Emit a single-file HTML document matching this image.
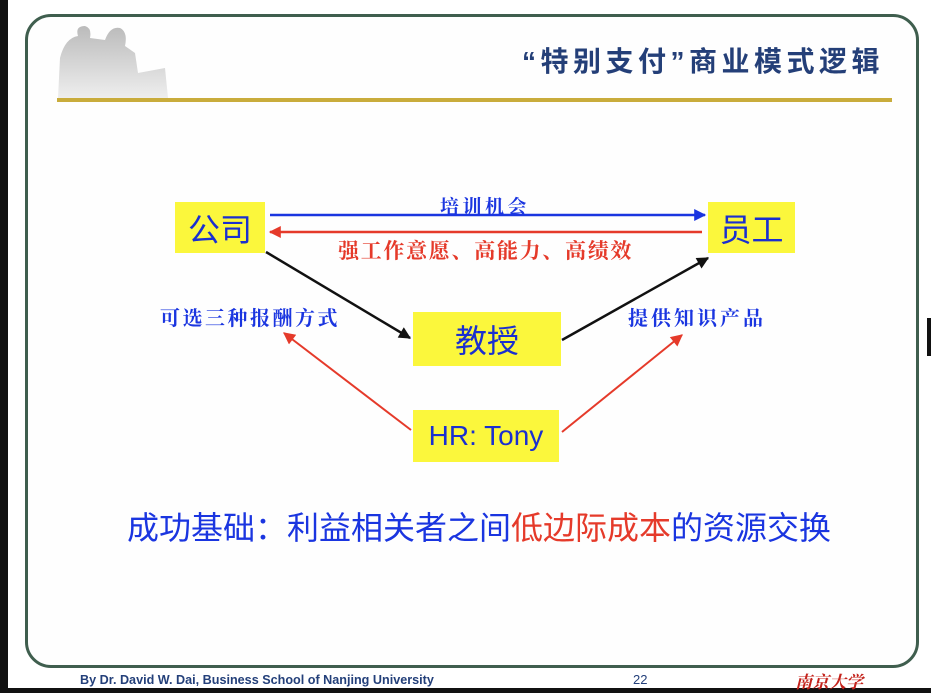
<!DOCTYPE html>
<html><head><meta charset="utf-8"><style>
body{margin:0;width:931px;height:693px;background:#fff;overflow:hidden;position:relative;font-family:"Liberation Sans","Noto Sans CJK SC",sans-serif}
.a{position:absolute;white-space:nowrap}
.box{position:absolute;background:#fbf73c;color:#1a2fd0;display:flex;align-items:center;justify-content:center}
.s{font-family:'Noto Serif CJK SC',serif}
</style></head><body>
<div class="a" style="left:0;top:0;width:8px;height:693px;background:#111"></div>
<div class="a" style="left:0;top:688px;width:931px;height:5px;background:#111"></div>
<div class="a" style="left:927px;top:318px;width:4px;height:38px;background:#111"></div>
<div class="a" style="left:25px;top:14px;width:888px;height:648px;border:3px solid #3f5e4e;border-radius:26px;background:#fefefe"></div>
<svg class="a" style="left:30px;top:18px" width="140" height="80">
<defs><linearGradient id="g" x1="0" y1="0" x2="0" y2="1"><stop offset="0" stop-color="#bbb"/><stop offset="1" stop-color="#eee"/></linearGradient></defs>
<path d="M28 80 L30 40 Q35 20 48 18 Q45 8 55 8 Q62 10 60 20 L75 22 Q80 8 90 10 Q98 14 95 28 L105 35 L108 55 L135 50 L138 80 Z" fill="url(#g)"/>
</svg>
<div class="a" style="left:522px;top:40px;font-size:28px;font-weight:bold;color:#243f78;letter-spacing:4.5px">“特别支付”商业模式逻辑</div>
<div class="a" style="left:57px;top:98px;width:835px;height:4px;background:#c9ac3c"></div>

<svg class="a" style="left:0;top:0" width="931" height="693">
<defs>
<marker id="b" viewBox="0 0 10 10" refX="9" refY="5" markerWidth="14" markerHeight="12" orient="auto" markerUnits="userSpaceOnUse"><path d="M0 0L10 5L0 10Z" fill="#1a35e0"/></marker>
<marker id="r" viewBox="0 0 10 10" refX="9" refY="5" markerWidth="14" markerHeight="12" orient="auto" markerUnits="userSpaceOnUse"><path d="M0 0L10 5L0 10Z" fill="#e53a2a"/></marker>
<marker id="k" viewBox="0 0 10 10" refX="9" refY="5" markerWidth="14" markerHeight="12" orient="auto" markerUnits="userSpaceOnUse"><path d="M0 0L10 5L0 10Z" fill="#111"/></marker>
</defs>
<line x1="270" y1="215" x2="705" y2="215" stroke="#1a35e0" stroke-width="2.5" marker-end="url(#b)"/>
<line x1="702" y1="232" x2="270" y2="232" stroke="#e53a2a" stroke-width="2.5" marker-end="url(#r)"/>
<line x1="266" y1="252" x2="410" y2="338" stroke="#111" stroke-width="2.5" marker-end="url(#k)"/>
<line x1="562" y1="340" x2="708" y2="258" stroke="#111" stroke-width="2.5" marker-end="url(#k)"/>
<line x1="411" y1="430" x2="284" y2="333" stroke="#e53a2a" stroke-width="2" marker-end="url(#r)"/>
<line x1="562" y1="432" x2="682" y2="335" stroke="#e53a2a" stroke-width="2" marker-end="url(#r)"/>
</svg>

<div class="box" style="left:175px;top:202px;width:90px;height:51px;font-size:32px">公司</div>
<div class="box" style="left:708px;top:202px;width:87px;height:51px;font-size:32px">员工</div>
<div class="box" style="left:413px;top:312px;width:148px;height:54px;font-size:32px">教授</div>
<div class="box" style="left:413px;top:410px;width:146px;height:52px;font-size:28px">HR: Tony</div>

<div class="a s" style="left:440px;top:192px;font-size:19px;color:#1a35e0;letter-spacing:3.5px;font-weight:bold">培训机会</div>
<div class="a s" style="left:338px;top:235px;font-size:21px;color:#e53a2a;letter-spacing:1.7px;font-weight:bold">强工作意愿、高能力、高绩效</div>
<div class="a s" style="left:160px;top:302px;font-size:20px;color:#1a35e0;letter-spacing:2.5px;font-weight:bold">可选三种报酬方式</div>
<div class="a s" style="left:628px;top:302px;font-size:20px;color:#1a35e0;letter-spacing:3px;font-weight:bold">提供知识产品</div>

<div class="a" style="left:127px;top:503px;font-size:32px;color:#1a35e0">成功基础：利益相关者之间<span style="color:#e53a2a">低边际成本</span>的资源交换</div>

<div class="a" style="left:80px;top:672px;font-size:13px;font-weight:bold;color:#24407a;transform:scaleX(0.97);transform-origin:left">By Dr. David W. Dai, Business School of Nanjing University</div>
<div class="a" style="left:633px;top:672px;font-size:13px;color:#24407a">22</div>
<div class="a s" style="left:795px;top:668px;font-size:17px;color:#c4231c;font-style:italic;font-weight:bold">南京大学</div>
</body></html>
